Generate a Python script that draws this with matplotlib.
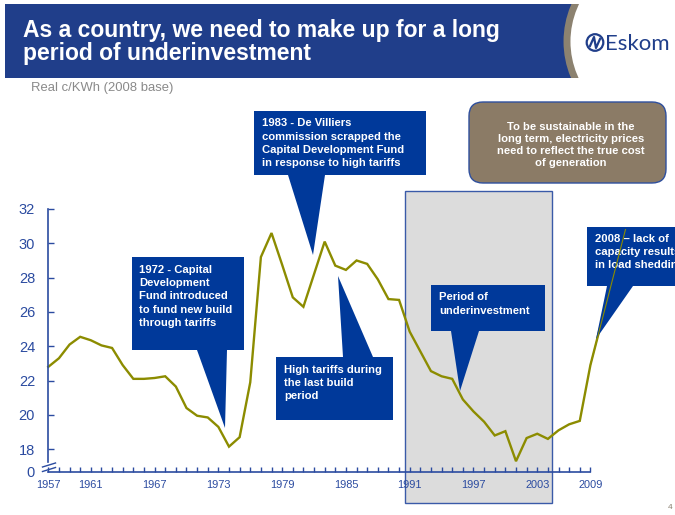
import matplotlib

matplotlib.use("Agg")

import matplotlib.pyplot as plt
import matplotlib.patches as mpatches
import matplotlib.transforms as mtransforms
from matplotlib.lines import Line2D

# real c/kWh (2008 base)
years = list(range(1957, 2010))
price = [
    22.8, 23.3, 24.1, 24.55, 24.35, 24.05, 23.9, 22.9, 22.1, 22.1,
    22.15, 22.25, 21.65, 20.4, 19.95, 19.85, 19.3, 18.15, 18.7, 21.9,
    29.2, 30.6, 28.75, 26.85, 26.3, 28.2, 30.1, 28.7, 28.45, 29.0,
    28.8, 27.9, 26.75, 26.7, 24.85, 23.7, 22.55, 22.25, 22.1, 20.9,
    20.2, 19.6, 18.8, 19.05, 17.3, 18.65, 18.9, 18.6, 19.1, 19.45,
    19.65, 22.9, 25.3,
]
trend_x = [2008, 2011.3]
trend_y = [22.9, 30.8]

underinvest_span = (1990.6, 2004.4)

xtick_pos = [1957, 1961, 1967, 1973, 1979, 1985, 1991, 1997, 2003, 2008]
xtick_lab = ["1957", "1961", "1967", "1973", "1979", "1985", "1991", "1997", "2003", "2009"]
ytick_pos = [16.7, 18, 20, 22, 24, 26, 28, 30, 32]
ytick_lab = ["0", "18", "20", "22", "24", "26", "28", "30", "32"]

BANNER = "#203E8A"
BOX = "#00399A"
AXIS = "#2B4BA0"
OLIVE = "#8C8C00"
BROWN = "#8B7B66"

W, H = 675, 515
fig = plt.figure(figsize=(W / 100, H / 100), dpi=100)
# pixel coordinates, y pointing down
pix = mtransforms.Affine2D().scale(1 / 100, -1 / 100).translate(0, H / 100) + fig.dpi_scale_trans

# --- header -----------------------------------------------------------
banner = mpatches.Rectangle((5, 4), W, 74.3, transform=pix, facecolor=BANNER, edgecolor="none", zorder=1)
fig.add_artist(banner)
ring = mpatches.Circle((656.6, 41.5), 89.6, transform=pix, facecolor="white", edgecolor="#8C8270", linewidth=5, zorder=1.1)
fig.add_artist(ring)
ring.set_clip_path(banner)
fig.text(22.7, 36.7, "As a country, we need to make up for a long", transform=pix, color="white",
         fontsize=16.5, fontweight="bold", family="Liberation Sans", va="baseline", zorder=2)
fig.text(22.7, 60, "period of underinvestment", transform=pix, color="white",
         fontsize=16.5, fontweight="bold", family="Liberation Sans", va="baseline", zorder=2)

logo = mpatches.Circle((595, 42.5), 8.3, transform=pix, facecolor="white", edgecolor=BANNER, linewidth=1.6, zorder=2)
fig.add_artist(logo)
fig.add_artist(Line2D([590, 594, 596, 600], [46, 37, 48, 39], transform=pix, color=BANNER, linewidth=1.6, zorder=3))
fig.text(605, 50, "Eskom", transform=pix, color=BANNER, fontsize=16, family="Lato", va="baseline", zorder=2)

fig.text(30.7, 91, "Real c/KWh (2008 base)", transform=pix, color="#8A8A8A", fontsize=9.4,
         family="Liberation Sans", va="baseline")
fig.text(668, 509, "4", transform=pix, color="#8A8070", fontsize=6, family="Liberation Sans", va="baseline")

# --- chart ------------------------------------------------------------
x0, x1, y_top, y_bot = 48.3, 590.4, 209, 471.5
ax = fig.add_axes([x0 / W, 1 - y_bot / H, (x1 - x0) / W, (y_bot - y_top) / H])
ax.set_xlim(1957, 2008)
ax.set_ylim(ytick_pos[0], 32)

ax.axvspan(*underinvest_span, ymin=-0.12, ymax=1.07, facecolor="#DCDCDC", edgecolor="#3A5AA8",
           linewidth=1, clip_on=False, zorder=0.5)
ax.plot(years, price, color=OLIVE, linewidth=1.7, clip_on=False, zorder=2, solid_joinstyle="miter")

for side in ("top", "right"):
    ax.spines[side].set_visible(False)
for side in ("left", "bottom"):
    ax.spines[side].set_color(AXIS)
    ax.spines[side].set_linewidth(1.2)
ax.spines["left"].set_bounds(17.25, 32)

ax.set_xticks(xtick_pos, xtick_lab)
ax.set_xticks(years[:-1], minor=True)
ax.set_yticks(ytick_pos, ytick_lab)
ax.tick_params(axis="x", which="both", direction="in", length=3.5, width=1, color=AXIS,
               labelcolor=AXIS, labelsize=7.9, pad=6)
ax.tick_params(axis="y", direction="in", length=4, width=1, color=AXIS, labelcolor=AXIS,
               labelsize=10.5, pad=9.5)
ax.yaxis.get_major_ticks()[0].tick1line.set_visible(False)
for lab in ax.get_xticklabels() + ax.get_yticklabels():
    lab.set_family("Liberation Sans")

# axis break marks
for dy in (0, 4.5):
    fig.add_artist(Line2D([42.5, 55.5], [467 + dy, 463 + dy], transform=pix, color=AXIS, linewidth=1, zorder=1))


# --- callouts ---------------------------------------------------------
def callout(box, base, tip, text, text_xy):
    bx0, by0, bx1, by1 = box
    tx, ty = tip
    if ty > by1:
        verts = [(bx0, by0), (bx1, by0), (bx1, by1), (base[1], by1), (tx, ty), (base[0], by1), (bx0, by1)]
    else:
        verts = [(bx0, by1), (bx1, by1), (bx1, by0), (base[1], by0), (tx, ty), (base[0], by0), (bx0, by0)]
    fig.add_artist(mpatches.Polygon(verts, closed=True, transform=pix, facecolor=BOX, edgecolor="none", zorder=3))
    fig.text(text_xy[0], text_xy[1], text, transform=pix, color="white", fontsize=8.1, fontweight="bold",
             family="Liberation Sans", va="top", ha="left", linespacing=1.4, zorder=4)


callout((254, 111, 426, 175), (288, 325), (313, 255),
        "1983 - De Villiers\ncommission scrapped the\nCapital Development Fund\nin response to high tariffs",
        (261.7, 118.5))
callout((132, 257, 244, 350), (197, 227), (225, 428),
        "1972 - Capital\nDevelopment\nFund introduced\nto fund new build\nthrough tariffs",
        (139.3, 265))
callout((276, 357, 393, 420), (343, 373), (338, 276),
        "High tariffs during\nthe last build\nperiod",
        (284, 365))
callout((431, 285, 545, 331), (451, 479), (460, 391),
        "Period of\nunderinvestment",
        (439, 292.5))
callout((587, 227, 690, 286), (607, 633), (596, 339),
        "2008 \u2013 lack of\ncapacity results\nin load shedding",
        (595, 234))

fig.add_artist(Line2D(trend_x, trend_y, transform=ax.transData, color=OLIVE, linewidth=0.8, zorder=6))

note = mpatches.FancyBboxPatch((469, 102), 197, 81, boxstyle="round,pad=0,rounding_size=14", transform=pix,
                               facecolor=BROWN, edgecolor="#2E4F9E", linewidth=1, zorder=3)
fig.add_artist(note)
fig.text(571, 145, "To be sustainable in the\nlong term, electricity prices\nneed to reflect the true cost\nof generation",
         transform=pix, color="white", fontsize=8.1, fontweight="bold", family="Liberation Sans",
         ha="center", va="center", multialignment="center", linespacing=1.24, zorder=4)

fig.savefig("out.png", dpi=100)
